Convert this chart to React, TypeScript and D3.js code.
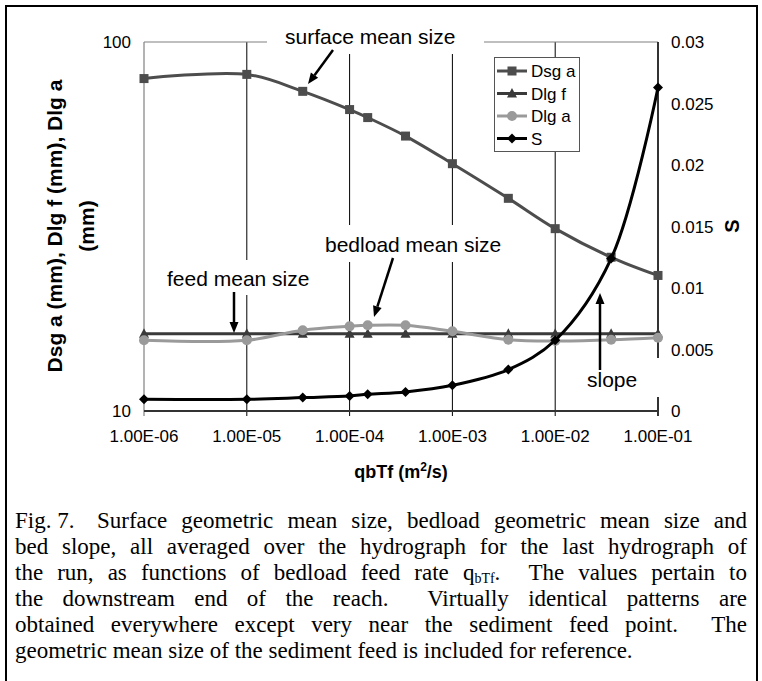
import React, { useLayoutEffect, useRef, useState } from 'react';
import * as d3 from 'd3';

const qbTf = [1e-6, 1e-5, 3.5e-5, 1e-4, 1.5e-4, 3.5e-4, 1e-3, 3.5e-3, 1e-2, 3.5e-2, 1e-1];
const dsgA = [79.6, 81.7, 73.5, 65.6, 62.4, 55.6, 46.8, 37.7, 31.2, 26.1, 23.3];
const dlgF = [16.2, 16.2, 16.2, 16.2, 16.2, 16.2, 16.2, 16.2, 16.2, 16.2, 16.2];
const dlgA = [15.55, 15.55, 16.55, 16.96, 17.07, 17.07, 16.44, 15.6, 15.47, 15.6, 15.8];
const slopeS = [0.00095, 0.00095, 0.00109, 0.00122, 0.00136, 0.00155, 0.00209, 0.00337, 0.00575, 0.01239, 0.0263];

const xTicks = [1e-6, 1e-5, 1e-4, 1e-3, 1e-2, 1e-1];
const xTickLabels = ['1.00E-06', '1.00E-05', '1.00E-04', '1.00E-03', '1.00E-02', '1.00E-01'];
const yLeftTicks = [10, 100];
const yLeftLabels = ['10', '100'];
const yRightTicks = [0, 0.005, 0.01, 0.015, 0.02, 0.025, 0.03];
const yRightLabels = ['0', '0.005', '0.01', '0.015', '0.02', '0.025', '0.03'];

const legendNames = ['Dsg a', 'Dlg f', 'Dlg a', 'S'];

const captionLines = [
  'Surface geometric mean size, bedload geometric mean size and',
  'bed slope, all averaged over the hydrograph for the last hydrograph of',
  'the run, as functions of bedload feed rate q_bTf.  The values pertain to',
  'the downstream end of the reach.  Virtually identical patterns are',
  'obtained everywhere except very near the sediment feed point.  The',
  'geometric mean size of the sediment feed is included for reference.',
];
const captionLabel = 'Fig. 7.';

const SANS = '"Liberation Sans", Arial, sans-serif';
const SERIF = '"Liberation Serif", "Times New Roman", serif';

const x = d3.scaleLog().domain([1e-6, 1e-1]).range([144, 658]);
const yL = d3.scaleLog().domain([10, 100]).range([411, 42]);
const yR = d3.scaleLinear().domain([0, 0.03]).range([411, 42]);

const curve = d3.curveCatmullRom.alpha(0.5);
const lineL = d3.line<[number, number]>().x(d => x(d[0])).y(d => yL(d[1])).curve(curve);
const lineR = d3.line<[number, number]>().x(d => x(d[0])).y(d => yR(d[1])).curve(curve);

const zip = (a: number[], b: number[]) => a.map((v, i) => [v, b[i]] as [number, number]);

const COL = { dsg: '#4d4d4d', dlgf: '#3a3a3a', dlga: '#9a9a9a', s: '#000000' };

function Marker({ kind, cx, cy, color }: { kind: string; cx: number; cy: number; color: string }) {
  if (kind === 'square') return <rect x={cx - 4.5} y={cy - 4.5} width={9} height={9} fill={color} />;
  if (kind === 'triangle')
    return <path d={`M${cx},${cy - 5.5}L${cx + 5},${cy + 4}L${cx - 5},${cy + 4}Z`} fill={color} />;
  if (kind === 'circle') return <circle cx={cx} cy={cy} r={5} fill={color} />;
  return <path d={`M${cx},${cy - 5}L${cx + 5},${cy}L${cx},${cy + 5}L${cx - 5},${cy}Z`} fill={color} />;
}

const CAP_LEFT = 15;
const CAP_RIGHT = 747;
const CAP_TEXT_START = 97;
const CAP_Y0 = 528;
const CAP_DY = 26;
const CAP_FS = 23;

function Word({ w, xPos, y, refCb }: { w: string; xPos: number; y: number; refCb: (el: SVGTextElement | null) => void }) {
  const m = w.match(/^q_bTf(.*)$/);
  return (
    <text ref={refCb} x={xPos} y={y} fontFamily={SERIF} fontSize={CAP_FS} fill="#000">
      {m ? (
        <>
          q<tspan fontSize={14} dy={3}>bTf</tspan>
          <tspan dy={-3}>{m[1]}</tspan>
        </>
      ) : (
        w
      )}
    </text>
  );
}

function Caption() {
  const parsed = captionLines.map(l => {
    const parts = l.split(/( +)/);
    const words: string[] = [];
    const gaps: number[] = [];
    parts.forEach((p, i) => {
      if (i % 2 === 0) words.push(p);
      else gaps.push(p.length);
    });
    return { words, gaps };
  });
  const refs = useRef<(SVGTextElement | null)[][]>(parsed.map(p => p.words.map(() => null)));
  const [pos, setPos] = useState<number[][] | null>(null);
  useLayoutEffect(() => {
    const space = CAP_FS * 0.25;
    const res = parsed.map((p, li) => {
      const widths = p.words.map((_, wi) => refs.current[li][wi]?.getComputedTextLength() ?? 0);
      const start = li === 0 ? CAP_TEXT_START : CAP_LEFT;
      const total = widths.reduce((a, b) => a + b, 0);
      const nsp = p.gaps.reduce((a, b) => a + b, 0);
      const last = li === parsed.length - 1;
      const per = last ? space : (CAP_RIGHT - start - total) / nsp;
      const xs: number[] = [];
      let cur = start;
      p.words.forEach((_, wi) => {
        xs.push(cur);
        cur += widths[wi] + (wi < p.gaps.length ? p.gaps[wi] * per : 0);
      });
      return xs;
    });
    setPos(res);
  }, []);
  return (
    <g>
      <text x={CAP_LEFT} y={CAP_Y0} fontFamily={SERIF} fontSize={CAP_FS}>{captionLabel}</text>
      {parsed.map((p, li) =>
        p.words.map((w, wi) => (
          <Word
            key={li + '-' + wi}
            w={w}
            xPos={pos ? pos[li][wi] : CAP_LEFT + wi * 60}
            y={CAP_Y0 + li * CAP_DY}
            refCb={el => {
              refs.current[li][wi] = el;
            }}
          />
        ))
      )}
    </g>
  );
}

function Arrow({ x1, y1, x2, y2 }: { x1: number; y1: number; x2: number; y2: number }) {
  const a = Math.atan2(y2 - y1, x2 - x1);
  const L = 11, W = 4.5;
  const bx = x2 - L * Math.cos(a), by = y2 - L * Math.sin(a);
  const px = -Math.sin(a) * W, py = Math.cos(a) * W;
  return (
    <g>
      <line x1={x1} y1={y1} x2={bx} y2={by} stroke="#000" strokeWidth={2.5} />
      <path d={`M${x2},${y2}L${bx + px},${by + py}L${bx - px},${by - py}Z`} fill="#000" />
    </g>
  );
}

export default function App() {
  const series = [
    { key: 'dsg', vals: dsgA, right: false, color: COL.dsg, marker: 'square', w: 3 },
    { key: 'dlgf', vals: dlgF, right: false, color: COL.dlgf, marker: 'triangle', w: 3 },
    { key: 'dlga', vals: dlgA, right: false, color: COL.dlga, marker: 'circle', w: 3 },
    { key: 's', vals: slopeS, right: true, color: COL.s, marker: 'diamond', w: 3 },
  ];
  const order = ['dlgf', 'dlga', 'dsg', 's'];
  const x0 = x(1e-6), x1 = x(1e-1);
  return (
    <svg width={762} height={681} style={{ position: 'absolute', left: 0, top: 0, background: '#fff' }}>
      <rect x={0} y={0} width={762} height={681} fill="#fff" />
      <rect x={6} y={6} width={751} height={690} fill="none" stroke="#000" strokeWidth={2} />

      {/* gridlines */}
      {xTicks.slice(1, -1).map((t, i) => (
        <line key={i} x1={x(t)} x2={x(t)} y1={yL(100)} y2={yL(10) + 5} stroke="#000" strokeWidth={1} />
      ))}
      {/* plot border */}
      <line x1={x0} x2={x1} y1={yL(100)} y2={yL(100)} stroke="#808080" strokeWidth={1.2} />
      <line x1={x0} x2={x0} y1={yL(100)} y2={yL(10) + 5} stroke="#808080" strokeWidth={1.2} />
      <line x1={x1} x2={x1} y1={yL(100)} y2={yL(10) + 5} stroke="#333" strokeWidth={2} />
      <line x1={x0} x2={x1} y1={yL(10)} y2={yL(10)} stroke="#333" strokeWidth={2} />

      {/* label backgrounds */}
      <rect x={267} y={24} width={217} height={30} fill="#fff" />
      <rect x={160} y={260} width={162} height={35} fill="#fff" />
      <rect x={318} y={225} width={198} height={37} fill="#fff" />
      <rect x={578} y={358} width={86} height={39} fill="#fff" />

      {/* axis tick labels */}
      {xTicks.map((t, i) => (
        <text key={i} x={x(t)} y={442} textAnchor="middle" fontFamily={SANS} fontSize={17}>{xTickLabels[i]}</text>
      ))}
      {yLeftTicks.map((t, i) => (
        <text key={i} x={131} y={yL(t) + 6} textAnchor="end" fontFamily={SANS} fontSize={17}>{yLeftLabels[i]}</text>
      ))}
      {yRightTicks.map((t, i) => (
        <text key={i} x={671} y={yR(t) + 6} textAnchor="start" fontFamily={SANS} fontSize={17}>{yRightLabels[i]}</text>
      ))}

      {/* axis titles */}
      <text transform="translate(62,226) rotate(-90)" textAnchor="middle" fontFamily={SANS} fontSize={21} fontWeight="bold">
        Dsg a (mm), Dlg f (mm), Dlg a
      </text>
      <text transform="translate(94,226) rotate(-90)" textAnchor="middle" fontFamily={SANS} fontSize={21} fontWeight="bold">
        (mm)
      </text>
      <text transform="translate(739,226) rotate(-90)" textAnchor="middle" fontFamily={SANS} fontSize={20} fontWeight="bold">
        S
      </text>
      <text x={401} y={478} textAnchor="middle" fontFamily={SANS} fontSize={18} fontWeight="bold">
        qbTf (m<tspan fontSize={12} dy={-7}>2</tspan><tspan dy={7}>/s)</tspan>
      </text>

      {/* series */}
      {order.map(k => {
        const s = series.find(v => v.key === k)!;
        const d = (s.right ? lineR : lineL)(zip(qbTf, s.vals)) || '';
        return (
          <g key={k}>
            <path d={d} fill="none" stroke={s.color} strokeWidth={s.w} />
            {qbTf.map((q, i) => (
              <Marker key={i} kind={s.marker} cx={x(q)} cy={s.right ? yR(s.vals[i]) : yL(s.vals[i])} color={s.color} />
            ))}
          </g>
        );
      })}

      {/* annotations */}
      <text x={285} y={44} fontFamily={SANS} fontSize={21}>surface mean size</text>
      <Arrow x1={333} y1={50} x2={308} y2={84} />
      <text x={167} y={286} fontFamily={SANS} fontSize={21}>feed mean size</text>
      <Arrow x1={234} y1={292} x2={234} y2={333} />
      <text x={325} y={252} fontFamily={SANS} fontSize={21}>bedload mean size</text>
      <Arrow x1={393} y1={258} x2={374} y2={317} />
      <text x={587} y={387} fontFamily={SANS} fontSize={21}>slope</text>
      <Arrow x1={600} y1={370} x2={600} y2={293} />

      {/* legend */}
      <rect x={494.5} y={57.5} width={85} height={94} fill="#fff" stroke="#555" strokeWidth={1} />
      {series.map((s, i) => {
        const cy = 71 + i * 22.5;
        return (
          <g key={s.key}>
            <line x1={497} x2={527} y1={cy} y2={cy} stroke={s.color} strokeWidth={3} />
            <Marker kind={s.marker} cx={512} cy={cy} color={s.color} />
            <text x={531} y={cy + 6} fontFamily={SANS} fontSize={17}>{legendNames[i]}</text>
          </g>
        );
      })}

      <Caption />
    </svg>
  );
}
